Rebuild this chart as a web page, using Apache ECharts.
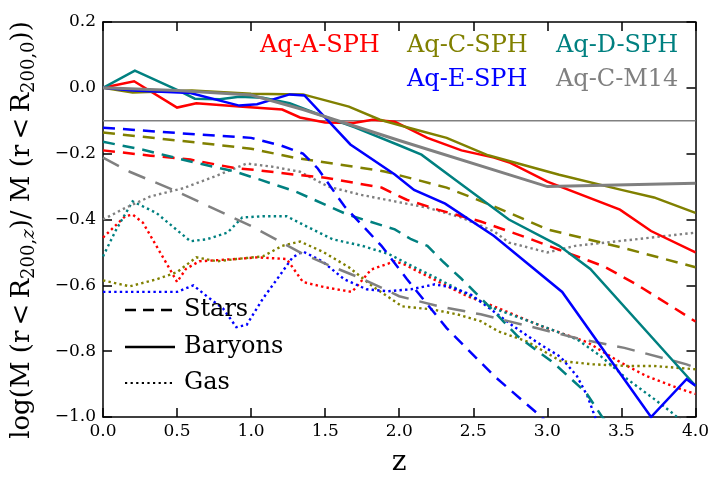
<!DOCTYPE html>
<html>
<head>
<meta charset="utf-8">
<script src="https://cdn.jsdelivr.net/npm/echarts@6/dist/echarts.min.js"></script>
<style>
html,body{margin:0;padding:0;background:#fff;}
#c{width:712px;height:482px;}
</style>
</head>
<body>
<div id="c"></div>
<script>
// ---- Data (z, log mass ratio) ----
const xTicks = [0, 4, 0.5];
const yTicks = [-1.0, 0.2, 0.2];
const refLevel = [-0.1];

// Baryons (solid)
const aBaryons = [[0,0],[0.21,0.02],[0.5,-0.06],[0.63,-0.047],[0.92,-0.057],[1.21,-0.066],[1.33,-0.09],[1.5,-0.105],[1.69,-0.107],[1.82,-0.097],[1.97,-0.103],[2.19,-0.152],[2.42,-0.19],[2.64,-0.212],[2.75,-0.228],[3.0,-0.285],[3.49,-0.37],[3.7,-0.435],[4.0,-0.5]];
const cBaryons = [[0,0],[0.2,-0.014],[0.6,-0.008],[1.0,-0.018],[1.35,-0.02],[1.66,-0.057],[1.87,-0.097],[2.07,-0.122],[2.32,-0.152],[2.6,-0.205],[3.08,-0.264],[3.5,-0.31],[3.72,-0.333],[4.0,-0.38]];
const dBaryons = [[0,0],[0.215,0.052],[0.5,-0.006],[0.62,-0.033],[0.79,-0.035],[0.92,-0.027],[1.08,-0.03],[1.26,-0.047],[1.44,-0.078],[1.70,-0.12],[1.99,-0.173],[2.15,-0.203],[2.38,-0.28],[2.74,-0.40],[3.08,-0.48],[3.29,-0.55],[4.0,-0.905]];
const eBaryons = [[0,0],[0.2,-0.008],[0.59,-0.016],[0.92,-0.054],[1.04,-0.05],[1.26,-0.02],[1.36,-0.023],[1.67,-0.172],[1.97,-0.263],[2.1,-0.31],[2.31,-0.352],[2.64,-0.45],[3.1,-0.62],[3.7,-1.0],[3.94,-0.885],[4.0,-0.905]];
const m14Baryons = [[0,0],[0.5,-0.008],[1.0,-0.022],[1.35,-0.066],[2.0,-0.16],[3.0,-0.30],[4.0,-0.29]];

// Stars (dashed)
const aStars = [[0,-0.19],[0.32,-0.206],[0.59,-0.218],[0.88,-0.243],[1.04,-0.25],[1.3,-0.264],[1.5,-0.273],[1.88,-0.303],[2.05,-0.34],[2.26,-0.37],[2.55,-0.406],[2.86,-0.455],[3.11,-0.497],[3.38,-0.542],[3.6,-0.597],[3.85,-0.667],[4.0,-0.71]];
const cStars = [[0,-0.136],[0.65,-0.167],[1.0,-0.185],[1.29,-0.212],[1.9,-0.254],[2.32,-0.303],[2.64,-0.36],[3.0,-0.43],[3.5,-0.485],[4.0,-0.545]];
const dStars = [[0,-0.164],[0.27,-0.188],[0.59,-0.224],[0.88,-0.253],[1.06,-0.279],[1.3,-0.315],[1.65,-0.385],[1.97,-0.43],[2.08,-0.46],[2.19,-0.48],[2.3,-0.53],[2.42,-0.58],[2.62,-0.67],[2.8,-0.755],[3.04,-0.835],[3.26,-0.925],[3.37,-1.0],[3.45,-1.04]];
const eStars = [[0,-0.121],[0.65,-0.142],[1.0,-0.152],[1.2,-0.175],[1.35,-0.2],[1.45,-0.245],[1.63,-0.36],[1.88,-0.48],[2.05,-0.58],[2.32,-0.73],[2.64,-0.875],[2.96,-1.0],[3.1,-1.06]];
const m14Stars = [[0,-0.212],[0.18,-0.255],[0.5,-0.315],[1.0,-0.42],[1.33,-0.5],[1.53,-0.54],[1.75,-0.58],[2.0,-0.633],[2.26,-0.663],[2.55,-0.688],[2.82,-0.718],[3.23,-0.764],[3.52,-0.79],[3.94,-0.84],[4.0,-0.85]];

// Gas (dotted)
const aGas = [[0,-0.455],[0.15,-0.39],[0.2,-0.385],[0.27,-0.41],[0.36,-0.48],[0.45,-0.55],[0.5,-0.59],[0.56,-0.55],[0.65,-0.527],[0.9,-0.52],[1.04,-0.515],[1.24,-0.52],[1.35,-0.59],[1.5,-0.606],[1.68,-0.62],[1.72,-0.6],[1.81,-0.552],[1.97,-0.527],[2.03,-0.536],[2.19,-0.572],[2.3,-0.597],[2.46,-0.633],[2.64,-0.664],[2.96,-0.724],[3.27,-0.773],[3.49,-0.833],[3.67,-0.876],[3.9,-0.915],[4.0,-0.93]];
const cGas = [[0,-0.585],[0.18,-0.603],[0.36,-0.582],[0.5,-0.56],[0.63,-0.515],[0.77,-0.527],[0.9,-0.52],[1.08,-0.512],[1.21,-0.48],[1.33,-0.467],[1.48,-0.497],[1.66,-0.545],[1.82,-0.603],[2.02,-0.664],[2.22,-0.673],[2.39,-0.688],[2.55,-0.709],[2.67,-0.74],[2.86,-0.77],[3.09,-0.83],[3.31,-0.84],[3.54,-0.845],[3.72,-0.845],[4.0,-0.855]];
const dGas = [[0,-0.512],[0.09,-0.43],[0.2,-0.345],[0.36,-0.38],[0.59,-0.466],[0.7,-0.46],[0.84,-0.44],[0.94,-0.394],[1.08,-0.39],[1.24,-0.39],[1.37,-0.42],[1.55,-0.46],[1.75,-0.48],[1.93,-0.505],[2.08,-0.54],[2.26,-0.58],[2.46,-0.627],[2.64,-0.67],[2.93,-0.718],[3.2,-0.764],[3.36,-0.815],[3.54,-0.885],[3.72,-0.945],[3.85,-0.99],[3.9,-1.01]];
const eGas = [[0,-0.62],[0.36,-0.62],[0.5,-0.62],[0.61,-0.6],[0.7,-0.633],[0.81,-0.67],[0.9,-0.727],[0.97,-0.72],[1.08,-0.64],[1.19,-0.572],[1.28,-0.515],[1.35,-0.497],[1.48,-0.527],[1.63,-0.582],[1.78,-0.612],[1.92,-0.618],[2.08,-0.612],[2.24,-0.597],[2.35,-0.606],[2.48,-0.627],[2.64,-0.68],[2.77,-0.724],[2.93,-0.773],[3.09,-0.818],[3.2,-0.876],[3.27,-0.936],[3.31,-0.985],[3.33,-1.01]];
const m14Gas = [[0,-0.4],[0.15,-0.365],[0.32,-0.33],[0.54,-0.305],[0.75,-0.27],[0.97,-0.23],[1.15,-0.24],[1.33,-0.255],[1.52,-0.3],[1.74,-0.325],[1.97,-0.345],[2.19,-0.364],[2.42,-0.394],[2.64,-0.436],[2.74,-0.47],[3.0,-0.5],[3.19,-0.48],[3.7,-0.455],[4.0,-0.44]];

const runNames = ['Aq-A-SPH','Aq-C-SPH','Aq-D-SPH','Aq-E-SPH','Aq-C-M14'];
const kindNames = ['Stars','Baryons','Gas'];

// ---- Styling ----
const FONT = '"DejaVu Serif", serif';
const colors = ['#ff0000','#808000','#008080','#0000ff','#808080'];
const runs = [
  {b:aBaryons, s:aStars, g:aGas},
  {b:cBaryons, s:cStars, g:cGas},
  {b:dBaryons, s:dStars, g:dGas},
  {b:eBaryons, s:eStars, g:eGas},
  {b:m14Baryons, s:m14Stars, g:m14Gas}
];

function line(name, data, color, type, width, z) {
  return {
    name, type:'line', data, symbol:'none', showSymbol:false, clip:true,
    animation:false, silent:true, z,
    lineStyle:{color, width, type, cap:'butt', join:'miter'}
  };
}

const series = [];
series.push(line('ref', [[xTicks[0], refLevel[0]],[xTicks[1], refLevel[0]]], '#808080', 'solid', 1.5, 1));
runs.forEach((r,i)=>{
  const gray = i===4;
  series.push(line(runNames[i]+' '+kindNames[2], r.g, colors[i], [2.4,3.2], 2.4, 2));
  series.push(line(runNames[i]+' '+kindNames[0], r.s, colors[i], gray?[18,11]:[12,8], 2.5, 3));
  series.push(line(runNames[i]+' '+kindNames[1], r.b, colors[i], 'solid', gray?3:2.5, 4));
});

const fmt = v => (v<0?'\u2212':'') + Math.abs(v).toFixed(1);
const axisCommon = {
  type:'value', splitLine:{show:false},
  axisLine:{onZero:false, lineStyle:{color:'#000', width:1.5}},
  axisTick:{inside:true, length:9, lineStyle:{color:'#000', width:1.5}},
};

const option = {
  backgroundColor:'#fff',
  animation:false,
  grid:{left:103, right:15, top:22, bottom:64, containLabel:false},
  xAxis:[
    Object.assign({}, axisCommon, {min:xTicks[0], max:xTicks[1], interval:xTicks[2], position:'bottom',
      axisLabel:{color:'#000', fontFamily:FONT, fontSize:17, margin:6, formatter:fmt},
      name:'z', nameLocation:'middle', nameGap:32,
      nameTextStyle:{color:'#000', fontFamily:FONT, fontSize:28}}),
    Object.assign({}, axisCommon, {min:xTicks[0], max:xTicks[1], interval:xTicks[2], position:'top', axisLabel:{show:false}})
  ],
  yAxis:[
    Object.assign({}, axisCommon, {min:yTicks[0], max:yTicks[1], interval:yTicks[2], position:'left',
      axisLabel:{color:'#000', fontFamily:FONT, fontSize:17, margin:7, formatter:fmt}}),
    Object.assign({}, axisCommon, {min:yTicks[0], max:yTicks[1], interval:yTicks[2], position:'right', axisLabel:{show:false}})
  ],
  series,
  graphic:[
    // y-axis title with subscripts
    {type:'text', x:22, y:230, rotation:Math.PI/2, z:100,
     style:{text:'{m|log(M (r\u2009<\u2009R}{s|200,}{si|z}{m|)/ M (r\u2009<\u2009R}{s|200,0}{m|))}',
       align:'center', verticalAlign:'middle', fill:'#000',
       rich:{
         m:{fontFamily:FONT, fontSize:26, lineHeight:32, verticalAlign:'middle', fill:'#000'},
         s:{fontFamily:FONT, fontSize:18, lineHeight:18, verticalAlign:'bottom', fill:'#000'},
         si:{fontFamily:FONT, fontSize:18, lineHeight:18, verticalAlign:'bottom', fontStyle:'italic', fill:'#000'}
       }}},
    // run legend
    {type:'text', x:260, y:46, z:100, style:{text:runNames[0], fill:colors[0], font:'24px '+FONT, verticalAlign:'middle'}},
    {type:'text', x:407, y:46, z:100, style:{text:runNames[1], fill:colors[1], font:'24px '+FONT, verticalAlign:'middle'}},
    {type:'text', x:556, y:46, z:100, style:{text:runNames[2], fill:colors[2], font:'24px '+FONT, verticalAlign:'middle'}},
    {type:'text', x:407, y:80, z:100, style:{text:runNames[3], fill:colors[3], font:'24px '+FONT, verticalAlign:'middle'}},
    {type:'text', x:556, y:80, z:100, style:{text:runNames[4], fill:colors[4], font:'24px '+FONT, verticalAlign:'middle'}},
    // line-style legend
    {type:'line', z:100, shape:{x1:125, y1:310, x2:175, y2:310}, style:{stroke:'#000', lineWidth:2.5, lineDash:[11,7]}},
    {type:'line', z:100, shape:{x1:125, y1:347, x2:175, y2:347}, style:{stroke:'#000', lineWidth:2.5}},
    {type:'line', z:100, shape:{x1:125, y1:383, x2:175, y2:383}, style:{stroke:'#000', lineWidth:2.2, lineDash:[2.2,3.4]}},
    {type:'text', x:184, y:310, z:100, style:{text:kindNames[0], fill:'#000', font:'24px '+FONT, verticalAlign:'middle'}},
    {type:'text', x:184, y:347, z:100, style:{text:kindNames[1], fill:'#000', font:'24px '+FONT, verticalAlign:'middle'}},
    {type:'text', x:184, y:383, z:100, style:{text:kindNames[2], fill:'#000', font:'24px '+FONT, verticalAlign:'middle'}}
  ]
};

const chart = echarts.init(document.getElementById('c'), null, {renderer:'canvas', width:712, height:482, devicePixelRatio:1});
chart.setOption(option);
</script>
</body>
</html>
